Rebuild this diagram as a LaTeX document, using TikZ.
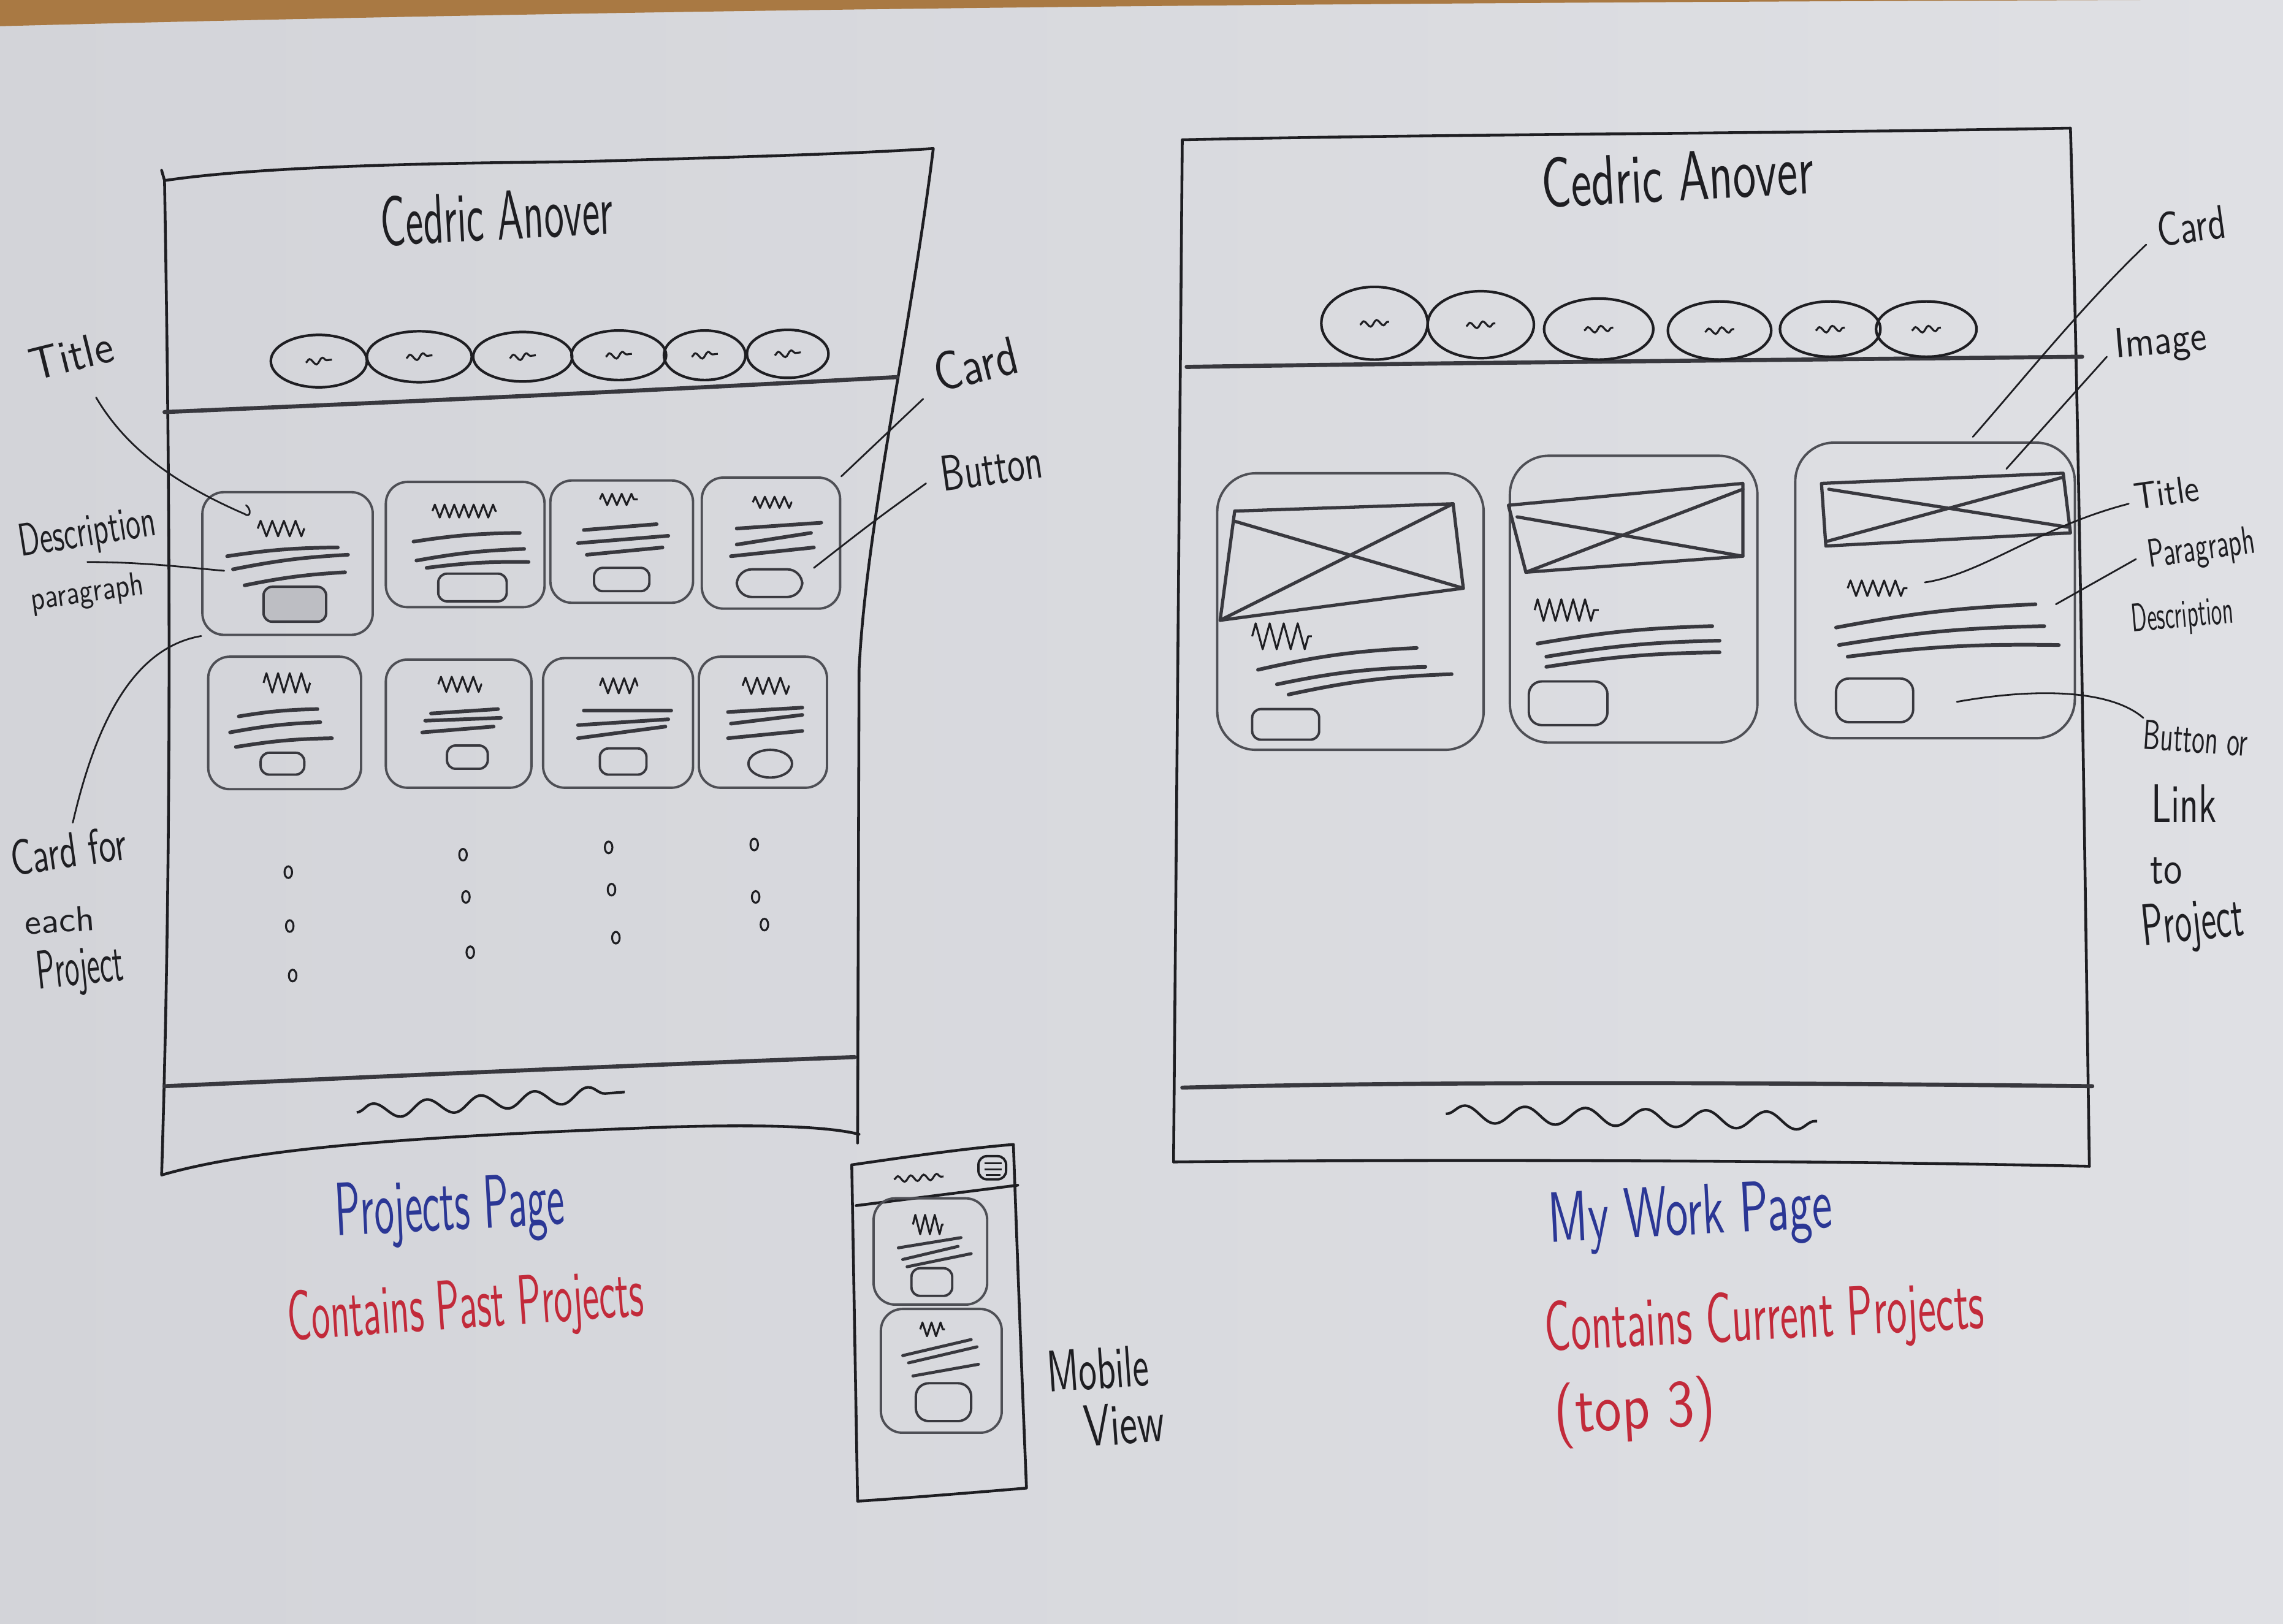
\documentclass[tikz,border=0pt]{standalone}
\usepackage{graphicx}
\usetikzlibrary{decorations.pathmorphing,shapes.geometric,fit}

% one drawing unit
\newlength\hu
\setlength\hu{0.02375cm}
% handwritten-looking label: width, height above baseline, text
\newcommand\hw[3]{\resizebox{#1\hu}{#2\hu}{\sffamily #3}}

\definecolor{paperA}{HTML}{D3D4D9}
\definecolor{paperB}{HTML}{DFE0E4}
\definecolor{desk}{HTML}{A97943}
\definecolor{ink}{HTML}{1E1E22}
\definecolor{lead}{HTML}{38383E}
\definecolor{soft}{HTML}{4E4F55}
\definecolor{btnfill}{HTML}{BDBEC3}
\definecolor{blueink}{HTML}{2B3795}
\definecolor{redink}{HTML}{C22A3A}

\tikzset{
  pen/.style={draw=ink, line width=1.3pt, line cap=round, line join=round},
  band/.style={draw=lead, line width=1.9pt, line cap=round},
  leader/.style={draw=ink, line width=0.8pt, line cap=round},
  cardS/.style={draw=soft, line width=1.1pt, rounded corners=10pt, inner sep=0pt},
  cardM/.style={draw=soft, line width=1.1pt, rounded corners=18pt, inner sep=0pt},
  btn/.style={draw=lead, line width=1.1pt, rounded corners=4pt, inner sep=0pt},
  oval/.style 2 args={ellipse, draw=ink, line width=1.2pt, inner sep=0pt,
    minimum width=#1*0.02375cm, minimum height=#2*0.02375cm},
  para/.style={draw=lead, line width=1.7pt, line cap=round},
  thinpara/.style={draw=lead, line width=1.4pt, line cap=round},
  imgbox/.style={draw=lead, line width=1.5pt, line join=round, line cap=round},
  squig/.style 2 args={draw=ink, line width=0.9pt, line join=round, decorate,
    decoration={zigzag, segment length=#1pt, amplitude=#2pt}},
  navsq/.style={draw=ink, line width=0.9pt, decorate,
    decoration={snake, segment length=6pt, amplitude=1.4pt}},
  wave/.style 2 args={draw=ink, line width=1.2pt, decorate,
    decoration={snake, segment length=#1pt, amplitude=#2pt}},
  dot/.style={draw=ink, line width=0.9pt},
  lbl/.style={inner sep=0pt, text=ink},
}

\begin{document}
\begin{tikzpicture}[x=0.02375cm, y=-0.02375cm]
\useasboundingbox (0,0) rectangle (1568,1115);
\shade[left color=paperA, right color=paperB] (0,0) rectangle (1568,1115);
\fill[desk] (0,0) -- (1470,0) .. controls (900,2) and (450,6) .. (0,18) -- cycle;

% =============== Projects page (desktop) ===============
\draw[pen] (111,117) -- (113,124) .. controls (180,114) and (300,112) .. (400,111)
  .. controls (500,108) and (580,106) .. (641,102)
  .. controls (625,230) and (595,360) .. (590,460) -- (589,785);
\draw[pen] (113,124) .. controls (116,300) and (119,550) .. (111,807)
  .. controls (180,787) and (300,780) .. (460,774) .. controls (530,772) and (570,774) .. (590,779);
\draw[band] (113,283) .. controls (300,275) and (450,268) .. (616,259);
\draw[band] (113,746) .. controls (250,740) and (350,735) .. (587,726);
\draw[wave={25}{3.5}] (245,764) -- (429,750);

\node[lbl] (pname) at (341,148) [rotate=3] {\hw{160}{34}{Cedric Anover}};

\foreach \n/\cx/\cy/\w/\h in {1/219/248/66/36, 2/288/245/72/35, 3/359/245/68/34,
                              4/425/244/65/34, 5/484/244/56/34, 6/541/243/56/33}{
  \node[oval={\w}{\h}] (pnav\n) at (\cx,\cy) {};
  \draw[navsq] (\cx-9,\cy+1) -- (\cx+9,\cy-1);
}

% project cards, first row
\node[cardS, fit={(139,338) (256,436)}] (pc1) {};
\draw[squig={5.4}{3.6}] (177,363) -- (209,363);
\draw[para] (156,382) to[bend left=4] (232,376);
\draw[para] (160,391) to[bend left=4] (239,381);
\draw[para] (168,402) to[bend left=4] (237,393);
\node[btn, fill=btnfill, fit={(181,403) (224,427)}] (pb1) {};

\node[cardS, fit={(265,331) (374,417)}] (pc2) {};
\draw[squig={4.5}{3}] (297,351) -- (341,351);
\draw[para] (284,372) to[bend left=4] (357,366);
\draw[para] (286,385) to[bend left=4] (360,377);
\draw[para] (293,390) to[bend left=4] (363,386);
\node[btn, fit={(301,394) (348,413)}] (pb2) {};

\node[cardS, fit={(378,330) (476,414)}] (pc3) {};
\draw[squig={4.5}{2.6}] (412,343) -- (438,343);
\draw[para] (401,364) -- (451,360);
\draw[para] (397,373) -- (459,368);
\draw[para] (403,381) -- (455,376);
\node[btn, fit={(408,390) (446,406)}] (pb3) {};

\node[cardS, fit={(482,328) (577,418)}] (pc4) {};
\draw[squig={4.5}{2.6}] (517,345) -- (544,345);
\draw[para] (506,363) -- (564,359);
\draw[para] (506,374) -- (557,366);
\draw[para] (502,382) -- (559,376);
\node[btn, rounded corners=7pt, fit={(506,391) (551,410)}] (pb4) {};

% project cards, second row
\node[cardS, fit={(143,451) (248,542)}] (pc5) {};
\draw[squig={5.4}{4.5}] (181,469) -- (213,469);
\draw[para] (164,492) to[bend left=4] (218,487);
\draw[para] (158,503) to[bend left=4] (220,496);
\draw[para] (162,513) to[bend left=4] (228,507);
\node[btn, fit={(179,517) (209,532)}] (pb5) {};

\node[cardS, fit={(265,453) (365,541)}] (pc6) {};
\draw[squig={5}{3.5}] (301,470) -- (331,470);
\draw[para] (296,490) -- (342,487);
\draw[para] (292,495) -- (344,493);
\draw[para] (290,503) -- (339,499);
\node[btn, fit={(307,512) (335,528)}] (pb6) {};

\node[cardS, fit={(373,452) (476,541)}] (pc7) {};
\draw[squig={5}{3.5}] (412,471) -- (438,471);
\draw[para] (401,488) -- (461,488);
\draw[para] (397,498) -- (459,494);
\draw[para] (397,507) -- (457,499);
\node[btn, fit={(412,514) (444,532)}] (pb7) {};

\node[cardS, fit={(480,451) (568,541)}] (pc8) {};
\draw[squig={5.4}{3.8}] (510,471) -- (542,471);
\draw[para] (500,489) -- (551,486);
\draw[para] (502,497) -- (551,491);
\draw[para] (500,507) -- (551,502);
\node[ellipse, draw=lead, line width=1.1pt, inner sep=0pt,
      minimum width=30*0.02375cm, minimum height=19*0.02375cm] (pb8) at (529,524.5) {};

% more cards below
\foreach \x/\y in {198/599, 199/636, 201/670, 318/587, 320/616, 323/654,
                   418/582, 420/611, 423/644, 518/580, 519/616, 525/635}{
  \draw[dot] (\x,\y) ellipse [x radius=2.6, y radius=4];
}

% =============== My Work page (desktop) ===============
\draw[pen] (806,798) -- (812,96) .. controls (1000,92) and (1200,92) .. (1422,88)
  .. controls (1428,300) and (1432,600) .. (1435,801);
\draw[pen] (806,798) .. controls (1000,796) and (1250,797) .. (1435,801);
\draw[band] (815,252) .. controls (1000,249) and (1250,247) .. (1430,245);
\draw[band] (812,747) .. controls (1000,742) and (1250,744) .. (1437,746);
\draw[wave={28}{4}] (993,765) -- (1248,770);

\node[lbl] (wname) at (1152,121) [rotate=3] {\hw{187}{34}{Cedric Anover}};

\foreach \n/\cx/\cy/\w/\h in {1/944/222/73/50, 2/1017/223/73/46, 3/1098/226/75/42,
                              4/1181/227/71/40, 5/1257/226/69/38, 6/1323/226/69/38}{
  \node[oval={\w}{\h}] (wnav\n) at (\cx,\cy) {};
  \draw[navsq] (\cx-10,\cy+1) -- (\cx+10,\cy-1);
}

% work card 1
\node[cardM, fit={(836,325) (1019,515)}] (wc1) {};
\draw[imgbox] (848,351) -- (998,346) -- (1005,404) -- (838,426) -- cycle;
\draw[imgbox] (848,358) -- (1005,404) (838,426) -- (998,346);
\draw[squig={6.5}{6}] (860,437) -- (901,437);
\draw[para] (864,460) to[bend left=5] (973,445);
\draw[para] (877,470) to[bend left=5] (979,458);
\draw[para] (885,477) to[bend left=5] (997,463);
\node[btn, fit={(860,487) (906,508)}] (wb1) {};

% work card 2
\node[cardM, fit={(1037,313) (1207,510)}] (wc2) {};
\draw[imgbox] (1036,347) -- (1197,332) -- (1197,382) -- (1048,393) -- cycle;
\draw[imgbox] (1042,355) -- (1197,382) (1048,393) -- (1197,336);
\draw[squig={5.5}{5}] (1054,419) -- (1098,419);
\draw[para] (1056,442) to[bend left=4] (1176,430);
\draw[para] (1062,451) to[bend left=4] (1181,440);
\draw[para] (1062,458) to[bend left=4] (1181,448);
\node[btn, rounded corners=6pt, fit={(1050,468) (1104,498)}] (wb2) {};

% work card 3
\node[cardM, fit={(1233,304) (1425,507)}] (wc3) {};
\draw[imgbox] (1251,332) -- (1417,325) -- (1422,366) -- (1254,375) -- cycle;
\draw[imgbox] (1256,336) -- (1420,362) (1254,372) -- (1416,328);
\draw[squig={5.2}{3.6}] (1269,404) -- (1310,404);
\draw[para] (1261,431) to[bend left=4] (1398,415);
\draw[para] (1263,443) to[bend left=4] (1404,430);
\draw[para] (1269,451) to[bend left=4] (1414,443);
\node[btn, rounded corners=6pt, fit={(1261,466) (1314,496)}] (wb3) {};

% =============== Mobile view ===============
\draw[pen] (585,800) .. controls (620,795) and (660,789) .. (696,786)
  .. controls (699,870) and (702,950) .. (705,1022)
  .. controls (670,1025) and (620,1029) .. (589,1031) -- cycle;
\draw[pen] (588,828) -- (699,814);
\node[btn, draw=ink, fit={(672,794) (691,810)}] (menu) {};
\draw[ink, line width=0.9pt] (676,799) -- (688,799) (676,803) -- (688,803) (677,807) -- (687,807);
\draw[navsq] (614,810) -- (648,808);

\node[cardS, fit={(600,823) (678,896)}] (mc1) {};
\draw[squig={4.5}{4.5}] (627,841) -- (648,841);
\draw[thinpara] (617,857) -- (660,850);
\draw[thinpara] (620,865) -- (658,856);
\draw[thinpara] (623,870) -- (667,861);
\node[btn, fit={(626,871) (654,890)}] (mb1) {};

\node[cardS, fit={(605,899) (688,984)}] (mc2) {};
\draw[squig={4.2}{3.2}] (632,913) -- (649,913);
\draw[thinpara] (620,931) -- (667,920);
\draw[thinpara] (624,936) -- (671,925);
\draw[thinpara] (627,945) -- (672,937);
\node[btn, rounded corners=6pt, fit={(629,950) (667,976)}] (mb2) {};

% =============== captions ===============
\node[lbl, text=blueink, rotate=3] (cap1) at (309,832) {\hw{158}{36}{Projects Page}};
\node[lbl, text=redink, rotate=4] (cap2) at (320,900) {\hw{245}{34}{Contains Past Projects}};
\node[lbl, rotate=4] (mob1) at (754,940) {\hw{70}{28}{Mobile}};
\node[lbl, rotate=4] (mob2) at (772,978) {\hw{55}{28}{View}};
\node[lbl, text=blueink, rotate=3] (cap3) at (1161,836) {\hw{195}{34}{My Work Page}};
\node[lbl, text=redink, rotate=3] (cap4) at (1212,908) {\hw{302}{34}{Contains Current Projects}};
\node[lbl, text=redink, rotate=3] (cap5) at (1123,970) {\hw{111}{34}{(top 3)}};

% =============== annotations, Projects page ===============
\node[lbl, rotate=14] (nTitleL) at (49,244) {\hw{58}{22}{Title}};
\node[lbl, rotate=9] (nDescL) at (60,367) {\hw{95}{22}{Description}};
\node[lbl, rotate=8] (nParaL) at (60,408) {\hw{78}{16}{paragraph}};
\node[lbl, rotate=8] (nCardFor) at (47,584) {\hw{80}{24}{Card for}};
\node[lbl, rotate=4] (nEach) at (41,632) {\hw{48}{17}{each}};
\node[lbl, rotate=6] (nProjL) at (55,667) {\hw{60}{26}{Project}};
\node[lbl, rotate=14] (nCardP) at (670,250) {\hw{58}{26}{Card}};
\node[lbl, rotate=8] (nBtnP) at (681,321) {\hw{70}{24}{Button}};

\coordinate (aTitleL) at (66,273);
\coordinate (bTitleL) at (168,353);
\draw[leader] (aTitleL) .. controls (85,305) and (115,330) .. (bTitleL)
  .. controls (172,356) and (173,350) .. (169,347);
\coordinate (aDescL) at (60,386);
\coordinate (bDescL) at (154,392);
\draw[leader] (aDescL) .. controls (100,386) and (130,390) .. (bDescL);
\coordinate (aCardFor) at (50,565);
\draw[leader] (aCardFor) .. controls (65,500) and (90,445) .. (pc1.south west);
\coordinate (aCardP) at (634,274);
\draw[leader] (aCardP) -- (pc4.north east);
\coordinate (aBtnP) at (636,332);
\coordinate (bBtnP) at (559,390);
\draw[leader] (aBtnP) .. controls (600,358) .. (bBtnP);

% =============== annotations, My Work page ===============
\node[lbl, rotate=8] (nCardW) at (1505,155) {\hw{47}{23}{Card}};
\node[lbl, rotate=5] (nImgW) at (1484,236) {\hw{63}{20}{Image}};
\node[lbl, rotate=8] (nTitleW) at (1488,338) {\hw{45}{18}{Title}};
\node[lbl, rotate=8] (nParaW) at (1512,378) {\hw{74}{19}{Paragraph}};
\node[lbl, rotate=5] (nDescW) at (1499,424) {\hw{70}{19}{Description}};
\node[lbl, rotate=-4] (nBtnW) at (1508,507) {\hw{72}{20}{Button or}};
\node[lbl] (nLinkW) at (1500,552) {\hw{45}{26}{Link}};
\node[lbl] (nToW) at (1488,598) {\hw{22}{18}{to}};
\node[lbl, rotate=6] (nProjW) at (1506,636) {\hw{70}{28}{Project}};

\coordinate (aCardW) at (1474,168);
\coordinate (bCardW) at (1355,300);
\draw[leader] (aCardW) .. controls (1430,210) and (1390,260) .. (bCardW);
\coordinate (aImgW) at (1447,245);
\coordinate (bImgW) at (1378,322);
\draw[leader] (aImgW) -- (bImgW);
\coordinate (aTitleW) at (1462,346);
\coordinate (bTitleW) at (1322,400);
\draw[leader] (aTitleW) .. controls (1400,362) and (1362,394) .. (bTitleW);
\coordinate (aParaW) at (1467,384);
\coordinate (bParaW) at (1412,415);
\draw[leader] (aParaW) -- (bParaW);
\coordinate (aBtnW) at (1472,493);
\coordinate (bBtnW) at (1344,482);
\draw[leader] (aBtnW) .. controls (1450,474) and (1400,472) .. (bBtnW);
\end{tikzpicture}
\end{document}
